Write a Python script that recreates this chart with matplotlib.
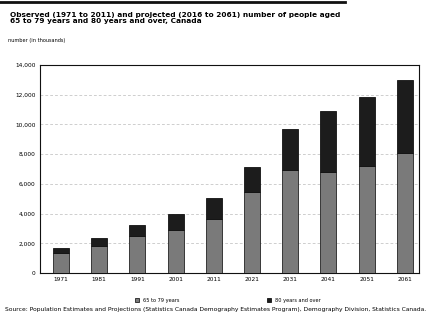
import matplotlib
matplotlib.use('Agg')
import matplotlib.pyplot as plt
import numpy as np

# Values (thousands of people)
years = ['1971', '1981', '1991', '2001', '2011', '2021', '2031', '2041', '2051', '2061']
aged_65_79 = [1340, 1850, 2460, 2910, 3630, 5420, 6900, 6830, 7210, 8100]
aged_80_plus = [340, 500, 790, 1060, 1410, 1740, 2780, 4080, 4660, 4890]
yticks = [0, 2000, 4000, 6000, 8000, 10000, 12000, 14000]

title = ('Observed (1971 to 2011) and projected (2016 to 2061) number of people aged\n'
         '65 to 79 years and 80 years and over, Canada')
source = ('Source: Population Estimates and Projections (Statistics Canada Demography '
          'Estimates Program), Demography Division, Statistics Canada.')

fig = plt.figure(figsize=(4.26, 3.15), dpi=100)
ax = fig.add_axes([0.0939, 0.1333, 0.8897, 0.6604])

x = np.arange(len(years))
ax.bar(x, aged_65_79, width=0.42, color='#7a7a7a', edgecolor='#222222',
       linewidth=0.6, label='65 to 79 years', zorder=3)
ax.bar(x, aged_80_plus, width=0.42, bottom=aged_65_79, color='#1c1c1c',
       edgecolor='#111111', linewidth=0.6, label='80 years and over', zorder=3)

ax.set_xlim(-0.55, 9.37)
ax.set_ylim(0, 14000)
ax.set_yticks(yticks)
ax.set_yticklabels(['{:,}'.format(v) for v in yticks])
ax.set_xticks(x)
ax.set_xticklabels(years)
ax.tick_params(labelsize=4.2, length=0, pad=3)
ax.yaxis.grid(True, color='#bbbbbb', linestyle=(0, (4, 3)), linewidth=0.5, zorder=0)
for sp in ax.spines.values():
    sp.set_linewidth(0.8)
    sp.set_color('#111111')

fig.legend(loc='center', bbox_to_anchor=(0.535, 0.047), ncol=2, frameon=False,
           fontsize=3.6, handlelength=0.8, handleheight=0.8, columnspacing=17.5)

fig.text(0.023, 0.962, title, fontsize=5.3, fontweight='bold', va='top', ha='left',
         linespacing=1.0)
fig.text(0.019, 0.873, 'number (in thousands)', fontsize=3.6, va='center', ha='left')
fig.text(0.012, 0.016, source, fontsize=4.3, va='center', ha='left')

fig.add_artist(plt.Line2D([0, 0.81], [0.995, 0.995], color='#111111', linewidth=2.0))

fig.savefig('out.png', dpi=100)
